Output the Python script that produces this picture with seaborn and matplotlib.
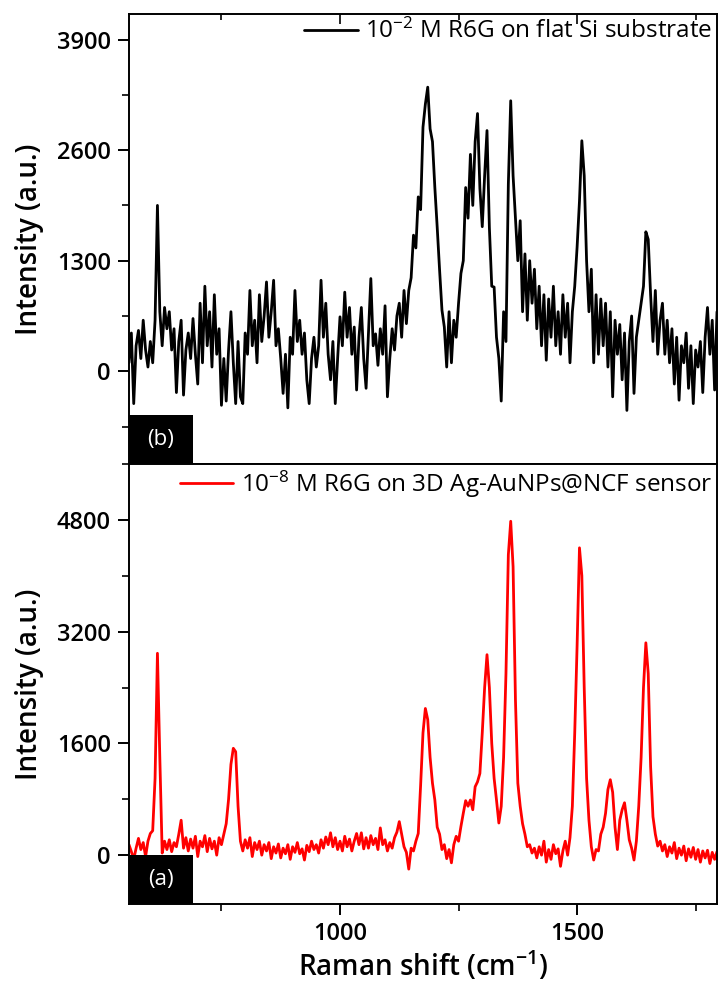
import numpy as np
import pandas as pd
import matplotlib
matplotlib.use("Agg")
import matplotlib.pyplot as plt
from matplotlib.patches import Rectangle
from matplotlib.ticker import MultipleLocator
import seaborn as sns

# ===============================
# DATA (one value every 5 cm-1 from 555 to 1795)
# ===============================
raman_shift = np.arange(555, 1800, 5)

# (b) 10^-2 M R6G on flat Si substrate
si_intensity = [
    100, 450, -380, 300, 480, 150, 600, 250, 50, 350,
    100, 600, 1950, 700, 300, 750, 500, 700, 250, 500,
    -250, 350, 600, -280, 250, 450, 150, 620, 200, -150,
    800, 100, 1000, 300, 700, 50, 900, 200, 500, -400,
    150, -350, 250, 700, 100, -380, 350, -300, -380, 450,
    200, 950, 300, 600, 100, 900, 350, 650, 1050, 400,
    700, 1070, 300, 500, 150, -260, 200, -430, 400, 200,
    950, 350, 600, 200, 450, -100, -380, 150, 400, 50,
    300, 1070, 400, 800, 200, -100, 350, -380, 150, 640,
    300, 930, 400, 750, 200, 520, -220, 400, 750, 150,
    -200, 450, 1090, 300, 440, 70, 500, 200, 770, -300,
    150, 500, 250, 650, 800, 400, 950, 560, 950, 1100,
    1600, 1450, 2050, 1900, 2870, 3140, 3340, 2850, 2700, 2160,
    1690, 1190, 720, 520, 50, 700, 100, 600, 400, 800,
    1150, 1300, 2160, 1800, 2550, 1950, 2700, 3030, 2150, 1700,
    2300, 2830, 1690, 1000, 990, 400, 150, -350, 700, 350,
    2200, 3180, 2300, 1800, 1300, 1770, 700, 1380, 600, 1300,
    800, 1200, 500, 1000, 300, 900, 130, 850, 400, 1000,
    300, 700, 200, 900, 400, 800, 100, 700, 1000, 1460,
    2000, 2710, 2300, 1300, 700, 1200, 100, 900, 200, 850,
    300, 800, 50, 700, -300, 600, 200, 550, -100, 450,
    -460, 350, 650, -260, 400, 600, 800, 1000, 1640, 1550,
    900, 350, 950, 200, 600, 800, 200, 600, 100, 500,
    -150, 400, -340, 300, 100, 450, -200, 300, -380, 250,
    50, 350, -250, 400, 750, 200, 600, -220, 700,
]

# (a) 10^-8 M R6G on 3D Ag-AuNPs@NCF sensor
sensor_intensity = [
    150, 50, -60, 100, 240, 80, 180, -20, 200, 310,
    350, 1100, 2890, 1400, 30, 200, 80, 220, 50, 180,
    120, 300, 500, 100, 250, 60, 230, 100, 270, -20,
    200, 120, 280, 50, 240, 90, 200, 0, 250, 150,
    300, 450, 800, 1300, 1530, 1480, 700, 200, 60, 220,
    100, 250, -20, 180, 80, 200, 0, 150, 60, 180,
    -50, 120, 30, 160, -40, 100, 20, 150, -60, 120,
    40, 180, 20, 90, -70, 140, 50, 200, 80, 150,
    30, 220, 100, 260, 150, 320, 120, 250, 80, 200,
    60, 270, 120, 230, 60, 200, 310, 150, 320, 90,
    250, 100, 280, 150, 240, 80, 390, 150, 220, 60,
    180, 100, 250, 330, 480, 300, 120, 40, -200, 100,
    60, 200, 310, 1000, 1750, 2100, 1940, 1400, 1030, 790,
    400, 300, 80, 150, -50, 80, -110, 150, 270, 200,
    410, 600, 780, 700, 790, 650, 980, 1050, 1170, 1750,
    2400, 2870, 2400, 1600, 1100, 790, 460, 700, 1400, 2600,
    4300, 4780, 4130, 2220, 1030, 700, 450, 300, 120, 150,
    30, 100, -40, 120, 0, 200, -100, 80, -60, 150,
    20, 90, -160, 60, 200, 0, 250, 700, 1750, 3000,
    4400, 4000, 2400, 1100, 500, 120, -70, 80, 60, 300,
    400, 600, 940, 1080, 900, 400, 80, 500, 650, 750,
    500, 220, 100, -70, 200, 700, 1400, 2400, 3040, 2600,
    1270, 550, 300, 130, 200, 60, 150, -20, 120, 30,
    180, -50, 100, 0, 130, -80, 90, -30, 110, -60,
    80, -100, 60, -40, 70, -120, 40, -60, 50,
]

label_si = "10$^{-2}$ M R6G on flat Si substrate"
label_sensor = "10$^{-8}$ M R6G on 3D Ag-AuNPs@NCF sensor"

df = pd.DataFrame({"shift": raman_shift, "si": si_intensity, "sensor": sensor_intensity})

# ===============================
# STYLE
# ===============================
sns.set_style("ticks")
plt.rcParams["font.family"] = ["Open Sans", "DejaVu Sans"]
plt.rcParams["mathtext.fontset"] = "custom"
plt.rcParams["mathtext.rm"] = "Open Sans"
plt.rcParams["mathtext.default"] = "regular"
plt.rcParams["axes.linewidth"] = 1.4
plt.rcParams["text.color"] = "black"
plt.rcParams["axes.labelcolor"] = "black"
plt.rcParams["xtick.color"] = "black"
plt.rcParams["ytick.color"] = "black"

fig = plt.figure(figsize=(7.19, 9.94), dpi=100)
ax_top = fig.add_axes([0.1794, 0.5332, 0.8178, 0.4527])
ax_bot = fig.add_axes([0.1794, 0.0905, 0.8178, 0.4427])

sns.lineplot(data=df, x="shift", y="si", ax=ax_top, color="black", lw=2.0, label=label_si)
sns.lineplot(data=df, x="shift", y="sensor", ax=ax_bot, color="#ff0000", lw=2.0, label=label_sensor)

ax_top.set_xlim(555, 1795)
ax_bot.set_xlim(555, 1795)
ax_top.set_ylim(-1090, 4200)
ax_bot.set_ylim(-700, 5600)

for ax, major in [(ax_top, 1300), (ax_bot, 1600)]:
    ax.xaxis.set_major_locator(MultipleLocator(500))
    ax.xaxis.set_minor_locator(MultipleLocator(250))
    ax.yaxis.set_major_locator(MultipleLocator(major))
    ax.yaxis.set_minor_locator(MultipleLocator(major / 2))
    ax.tick_params(axis="y", which="major", direction="out", length=8, width=1.4,
                   labelsize=17, pad=5)
    ax.tick_params(axis="y", which="minor", direction="out", length=5, width=1.2)
    ax.set_ylabel("Intensity (a.u.)", fontsize=20, fontweight="semibold", labelpad=9)
    for s in ax.spines.values():
        s.set_visible(True)
        s.set_color("black")
    ax.legend(loc="upper right", frameon=False, fontsize=17.5, handlelength=2.2,
              handletextpad=0.3, borderaxespad=0.05, borderpad=0.15,
              labelcolor="black")
    for t in ax.get_yticklabels():
        t.set_fontweight("semibold")

ax_top.tick_params(axis="x", which="both", direction="in", top=True, bottom=False,
                   labelbottom=False, width=1.2)
ax_top.tick_params(axis="x", which="major", length=7)
ax_top.tick_params(axis="x", which="minor", length=4)
ax_top.set_xlabel("")

ax_bot.tick_params(axis="x", which="major", direction="out", bottom=True, top=False,
                   length=8, width=1.4, labelsize=17, pad=5)
ax_bot.tick_params(axis="x", which="minor", direction="out", bottom=True, length=5, width=1.2)
ax_bot.set_xlabel("Raman shift (cm$^{-1}$)", fontsize=20, fontweight="semibold", labelpad=2)
for t in ax_bot.get_xticklabels():
    t.set_fontweight("semibold")

# panel tags
for ax, tag, h in [(ax_top, "(b)", 0.109), (ax_bot, "(a)", 0.111)]:
    ax.add_patch(Rectangle((0, 0), 0.109, h, transform=ax.transAxes,
                           facecolor="black", edgecolor="none", zorder=5))
    ax.text(0.0545, h / 2, tag, transform=ax.transAxes, color="white",
            fontsize=16, ha="center", va="center", zorder=6)

fig.savefig("out.png", dpi=100)
